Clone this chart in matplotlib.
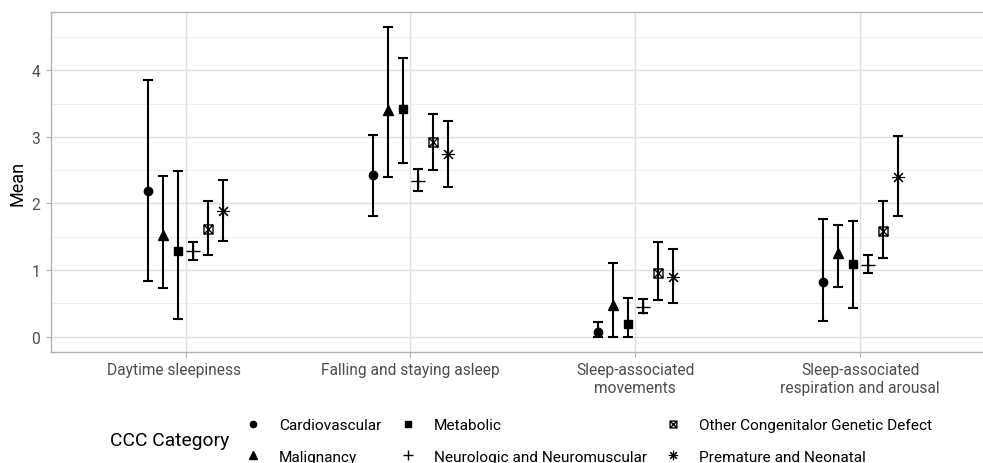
import numpy as np
import matplotlib
matplotlib.use("Agg")
import matplotlib.pyplot as plt
from matplotlib.path import Path
from matplotlib.lines import Line2D

plt.rcParams['font.family'] = ['Roboto', 'DejaVu Sans']

# domains on the x axis
domains = ["Daytime sleepiness      ", "Falling and staying asleep",
           "Sleep-associated\nmovements",
           "Sleep-associated\nrespiration and arousal"]

groups = ["Cardiovascular", "Malignancy", "Metabolic",
          "Neurologic and Neuromuscular", "Other Congenitalor Genetic Defect",
          "Premature and Neonatal"]

# one row per group, one column per domain
means = [
    [2.19, 2.42, 0.07, 0.82],
    [1.52, 3.41, 0.48, 1.26],
    [1.28, 3.42, 0.19, 1.09],
    [1.29, 2.34, 0.44, 1.08],
    [1.61, 2.93, 0.95, 1.58],
    [1.89, 2.74, 0.89, 2.39],
]
lower = [
    [0.84, 1.81, 0.00, 0.23],
    [0.73, 2.39, 0.00, 0.75],
    [0.27, 2.60, 0.00, 0.43],
    [1.15, 2.19, 0.35, 0.95],
    [1.22, 2.50, 0.55, 1.18],
    [1.44, 2.25, 0.51, 1.81],
]
upper = [
    [3.85, 3.03, 0.22, 1.76],
    [2.41, 4.65, 1.11, 1.67],
    [2.48, 4.19, 0.58, 1.74],
    [1.42, 2.51, 0.56, 1.23],
    [2.03, 3.34, 1.42, 2.04],
    [2.35, 3.24, 1.32, 3.01],
]

# hollow square with a cross inside (ggplot shape 7)
sq_cross = Path(
    [(-1, -1), (1, -1), (1, 1), (-1, 1), (-1, -1),
     (-1, -1), (1, 1), (-1, 1), (1, -1)],
    [Path.MOVETO, Path.LINETO, Path.LINETO, Path.LINETO, Path.CLOSEPOLY,
     Path.MOVETO, Path.LINETO, Path.MOVETO, Path.LINETO])

markers = ['o', '^', 's', '+', sq_cross, (8, 2, 0)]
msizes = [6, 7, 6, 10, 6.5, 9]
filled = [True, True, True, False, False, False]
mews = [1.0, 1.0, 1.0, 1.0, 1.0, 0.8]

fig = plt.figure(figsize=(9.83, 4.64), dpi=100)
ax = fig.add_axes([50.7 / 983, 111 / 464, (995 - 50.7) / 983, (353 - 12.7) / 464])

x = np.arange(1, len(domains) + 1)
dodge = 0.4 / len(groups)

for i, g in enumerate(groups):
    xi = x + (i - (len(groups) - 1) / 2) * dodge
    m = np.array(means[i])
    lo = np.array(lower[i])
    hi = np.array(upper[i])
    ax.errorbar(xi, m, yerr=[m - lo, hi - m], fmt='none', ecolor='black',
                elinewidth=1.5, capsize=3.6, capthick=1.5, zorder=3)
    ax.plot(xi, m, linestyle='none', marker=markers[i], ms=msizes[i],
            color='black', mfc='black' if filled[i] else 'none',
            mew=mews[i], zorder=4)

ax.set_xlim(0.4, 4.6)
ax.set_ylim(-0.232, 4.88)
ax.set_xticks(x)
ax.set_xticklabels(domains)
ax.set_yticks([0, 1, 2, 3, 4])
ax.set_yticks([0.5, 1.5, 2.5, 3.5, 4.5], minor=True)

ax.grid(which='major', color='#DEDEDE', linewidth=1.0)
ax.grid(which='minor', axis='y', color='#EDEDED', linewidth=0.7)
ax.set_axisbelow(True)
for s in ax.spines.values():
    s.set_color('#B3B3B3')
    s.set_linewidth(1.0)
ax.tick_params(which='major', colors='#B3B3B3', labelcolor='#4D4D4D',
               labelsize=11.2, length=3.5, width=0.8, pad=4)
ax.tick_params(which='minor', length=0)

fig.text(17 / 983, (464 - 183.5) / 464, "Mean", rotation=90, ha='center',
         va='center', fontsize=13)

fig.text(110 / 983, (464 - 441.5) / 464, "CCC Category", ha='left',
         va='center', fontsize=13.9)

handles = [Line2D([], [], linestyle='none', marker=markers[i],
                  ms=msizes[i] * 0.75, color='black',
                  mfc='black' if filled[i] else 'none', mew=mews[i])
           for i in range(len(groups))]
fig.legend(handles, groups, ncol=3, frameon=False, fontsize=11.1,
           loc='center left', bbox_to_anchor=(243.8 / 983, (464 - 442) / 464),
           borderaxespad=0, borderpad=0, handlelength=1.2,
           handletextpad=1.09, columnspacing=1.1, labelspacing=1.15)

fig.savefig("out.png", dpi=100)
